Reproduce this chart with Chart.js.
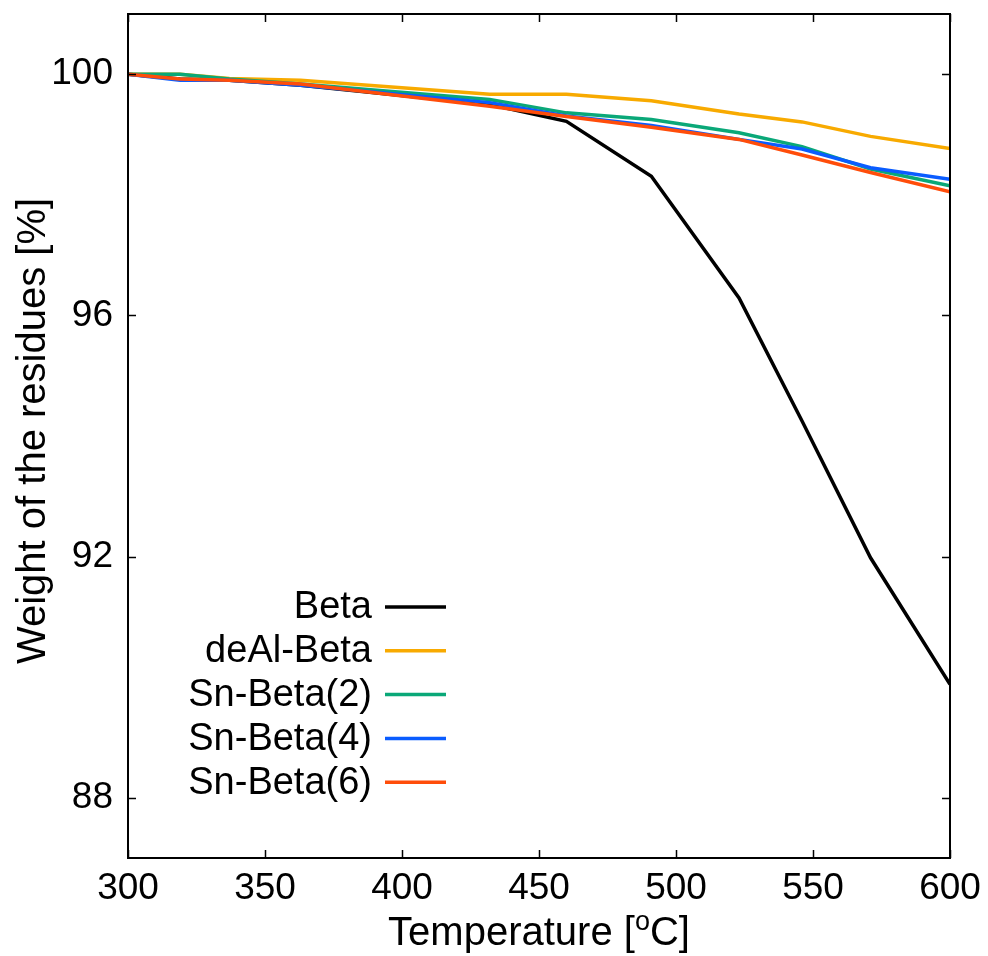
<!DOCTYPE html>
<html>
<head>
<meta charset="utf-8">
<script src="https://cdn.jsdelivr.net/npm/chart.js@4/dist/chart.umd.min.js"></script>
<style>
  html, body { margin: 0; padding: 0; background: #fff; }
  #wrap { width: 988px; height: 956px; }
</style>
</head>
<body>
<div id="wrap"><canvas id="chart" width="988" height="956"></canvas></div>
<script>
"use strict";

// Temperature sampling points [oC]
const temps = [300, 319, 337, 363, 432, 460, 491, 523, 546, 571, 600];

// Weight of residues [%] per sample
const beta     = [100, 99.92, 99.90, 99.82, 99.50, 99.22, 98.31, 96.29, 94.25, 91.98, 89.88];
const deAlBeta = [100, 100.0, 99.93, 99.90, 99.67, 99.67, 99.56, 99.34, 99.21, 98.97, 98.77];
const snBeta2  = [100, 100.0, 99.92, 99.84, 99.58, 99.36, 99.25, 99.03, 98.80, 98.43, 98.15];
const snBeta4  = [100, 99.90, 99.90, 99.82, 99.53, 99.31, 99.15, 98.92, 98.76, 98.45, 98.26];
const snBeta6  = [100, 99.92, 99.90, 99.84, 99.47, 99.30, 99.12, 98.92, 98.66, 98.37, 98.05];

const seriesNames  = ['Beta', 'deAl-Beta', 'Sn-Beta(2)', 'Sn-Beta(4)', 'Sn-Beta(6)'];
const seriesValues = [beta, deAlBeta, snBeta2, snBeta4, snBeta6];
const seriesColors = ['#000000', '#f8aa00', '#0aa878', '#0a5cff', '#ff4d0a'];

const xTicks = [300, 350, 400, 450, 500, 550, 600];
const yTicks = [88, 92, 96, 100];

const FONT = '"Liberation Sans", Arial, sans-serif';

function toPoints(_vals) {
  return _vals.map(function(_v, _i) { return {x: temps[_i], y: _v}; });
}

let _datasets = seriesNames.map(function(_name, _i) {
  return {
    label: _name,
    data: toPoints(seriesValues[_i]),
    borderColor: seriesColors[_i],
    backgroundColor: seriesColors[_i],
    borderWidth: 3.5,
    pointRadius: 0,
    tension: 0,
    fill: false,
    order: seriesNames.length - _i   // last series drawn on top
  };
});

// Frame, inward ticks (mirrored), axis titles and legend
const framePlugin = {
  id: 'frame',
  afterDatasetsDraw(_chart) {
    let _ctx = _chart.ctx;
    let _a = _chart.chartArea;
    let _x = _chart.scales.x;
    let _y = _chart.scales.y;

    _ctx.save();
    _ctx.strokeStyle = '#000';
    _ctx.lineWidth = 2;
    _ctx.strokeRect(_a.left, _a.top, _a.right - _a.left, _a.bottom - _a.top);

    // ticks pointing inward on all four sides
    _ctx.lineWidth = 1.5;
    _ctx.beginPath();
    xTicks.forEach(function(_t) {
      let _px = Math.round(_x.getPixelForValue(_t)) + 0.5;
      _ctx.moveTo(_px, _a.bottom); _ctx.lineTo(_px, _a.bottom - 8);
      _ctx.moveTo(_px, _a.top);    _ctx.lineTo(_px, _a.top + 8);
    });
    yTicks.forEach(function(_t) {
      let _py = Math.round(_y.getPixelForValue(_t)) + 0.5;
      _ctx.moveTo(_a.left, _py);  _ctx.lineTo(_a.left + 8, _py);
      _ctx.moveTo(_a.right, _py); _ctx.lineTo(_a.right - 8, _py);
    });
    _ctx.stroke();

    // legend: right aligned text followed by a line sample
    _ctx.font = '38px ' + FONT;
    _ctx.textAlign = 'right';
    _ctx.textBaseline = 'middle';
    _chart.data.datasets.forEach(function(_ds, _i) {
      let _ly = 607 + _i * 43.8;
      _ctx.fillStyle = '#000';
      _ctx.fillText(_ds.label, 372, _ly + 1);
      _ctx.strokeStyle = _ds.borderColor;
      _ctx.lineWidth = 3.5;
      _ctx.beginPath();
      _ctx.moveTo(385, _ly);
      _ctx.lineTo(446, _ly);
      _ctx.stroke();
    });

    // y axis title
    _ctx.fillStyle = '#000';
    _ctx.save();
    _ctx.translate(45, 431);
    _ctx.rotate(-Math.PI / 2);
    _ctx.textAlign = 'center';
    _ctx.textBaseline = 'alphabetic';
    _ctx.font = '40px ' + FONT;
    _ctx.fillText('Weight of the residues [%]', 0, 0);
    _ctx.restore();

    // x axis title with superscript o
    let _p1 = 'Temperature [';
    let _p3 = 'C]';
    _ctx.font = '40px ' + FONT;
    let _w1 = _ctx.measureText(_p1).width;
    let _w3 = _ctx.measureText(_p3).width;
    _ctx.font = '27px ' + FONT;
    let _w2 = _ctx.measureText('o').width;
    let _cx = (_a.left + _a.right) / 2;
    let _sx = _cx - (_w1 + _w2 + _w3) / 2;
    let _by = 945;
    _ctx.textAlign = 'left';
    _ctx.textBaseline = 'alphabetic';
    _ctx.font = '40px ' + FONT;
    _ctx.fillText(_p1, _sx, _by);
    _ctx.font = '27px ' + FONT;
    _ctx.fillText('o', _sx + _w1, _by - 15);
    _ctx.font = '40px ' + FONT;
    _ctx.fillText(_p3, _sx + _w1 + _w2, _by);
    _ctx.restore();
  }
};

new Chart(document.getElementById('chart'), {
  type: 'line',
  data: { datasets: _datasets },
  options: {
    responsive: false,
    animation: false,
    layout: { padding: { left: 0, right: 38, top: 14, bottom: 0 } },
    plugins: { legend: { display: false }, tooltip: { enabled: false } },
    scales: {
      x: {
        type: 'linear',
        min: 300, max: 600,
        afterBuildTicks: function(_s) { _s.ticks = xTicks.map(function(_v) { return {value: _v}; }); },
        afterFit: function(_s) { _s.height = 98; _s.paddingLeft = 0; _s.paddingRight = 0; },
        grid: { display: false, drawTicks: false },
        border: { display: false },
        ticks: { color: '#000', font: { family: FONT, size: 37 }, padding: 9, maxRotation: 0 }
      },
      y: {
        type: 'linear',
        min: 87, max: 101,
        afterBuildTicks: function(_s) { _s.ticks = yTicks.map(function(_v) { return {value: _v}; }); },
        afterFit: function(_s) { _s.width = 128; _s.paddingTop = 0; _s.paddingBottom = 0; },
        grid: { display: false, drawTicks: false },
        border: { display: false },
        ticks: { color: '#000', font: { family: FONT, size: 37 }, padding: 15 }
      }
    }
  },
  plugins: [framePlugin]
});
</script>
</body>
</html>
